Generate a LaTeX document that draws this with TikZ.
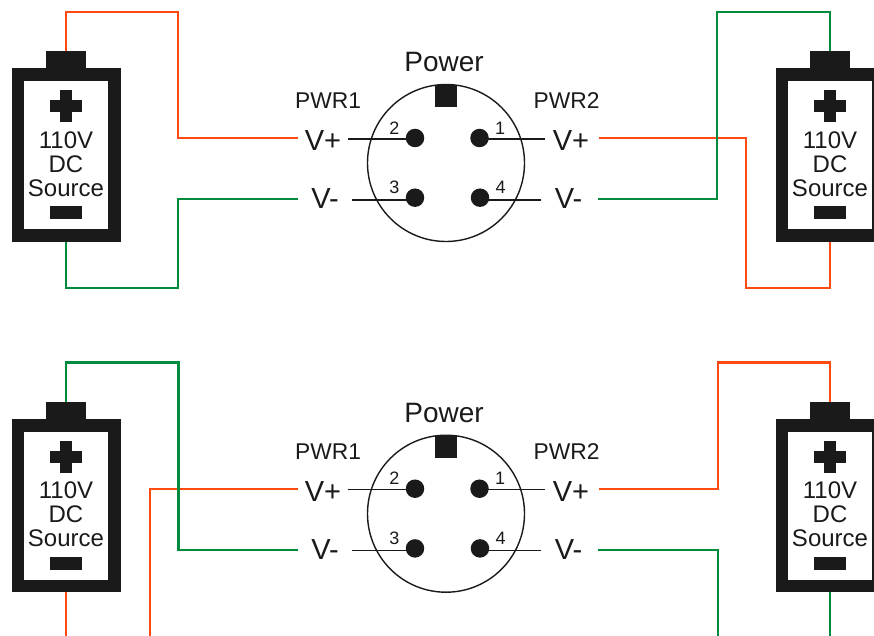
\documentclass[tikz,border=0pt]{standalone}
\usepackage{fontspec}
\setmainfont{Liberation Sans}
\usetikzlibrary{positioning}
\definecolor{ink}{HTML}{1A1A1A}
\definecolor{wirered}{HTML}{FF4A12}
\definecolor{wiregreen}{HTML}{008C3C}
\tikzset{
	solid box/.style={rectangle, fill=ink, inner sep=0pt, outer sep=0pt},
	pin/.style={circle, fill=ink, minimum size=18.5pt, inner sep=0pt, outer sep=0pt},
	pin number/.style={inner sep=0pt, text=ink, font=\fontsize{18}{18}\selectfont},
	port/.style={inner ysep=0pt, text=ink, font=\fontsize{29}{29}\selectfont},
	caption/.style={inner sep=0pt, text=ink},
	red wire/.style={draw=wirered, line width=2.3pt},
	green wire/.style={draw=wiregreen, line width=2.3pt},
	lead/.style={draw=ink, line width=1.4pt},
	battery/.pic={
		\node[draw=ink, line width=12.5pt, minimum width=96.5pt, minimum height=160.5pt, inner sep=0pt] (-body) at (0,0) {};
		\node[solid box, minimum width=40pt, minimum height=17pt, above=0pt of -body] (-cap) {};
		\node[solid box, minimum width=32pt, minimum height=12pt] (-plusH) at (0,-49) {};
		\node[solid box, minimum width=12pt, minimum height=32pt] (-plusV) at (0,-49) {};
		\node[caption, align=center, font=\fontsize{24}{24}\selectfont] (-text) at (0,9) {110V\\DC\\Source};
		\node[solid box, minimum width=32pt, minimum height=13pt] (-minus) at (0,57.5) {};
	},
	plug/.pic={
		\node[circle, draw=ink, line width=1.4pt, minimum size=157pt, inner sep=0pt] (-shell) at (0,0) {};
		\node[solid box, minimum width=22pt, minimum height=22pt] (-key) at (0,-67) {};
		\node[caption, font=\fontsize{28}{28}\selectfont] (-title) at (-2,-101) {Power};
		\node[caption, font=\fontsize{22.8}{23}\selectfont] (-nameL) at (-118,-62) {PWR1};
		\node[caption, font=\fontsize{22.8}{23}\selectfont] (-nameR) at (120.5,-62) {PWR2};
		\node[pin] (-pin2) at (-31,-25) {};
		\node[pin] (-pin1) at (33.5,-25) {};
		\node[pin] (-pin3) at (-31,34.7) {};
		\node[pin] (-pin4) at (34,34.7) {};
		\node[pin number, above left=-3pt and 9pt of -pin2] (-num2) {2};
		\node[pin number, above right=-3pt and 9pt of -pin1] (-num1) {1};
		\node[pin number, above left=-3pt and 9pt of -pin3] (-num3) {3};
		\node[pin number, above right=-3pt and 9pt of -pin4] (-num4) {4};
		\node[port, inner xsep=6.5pt, text height=25pt] (-VpL) at (-123,-25) {V+};
		\node[port, inner xsep=13.5pt, text height=19pt] (-VmL) at (-121,36) {V-};
		\node[port, inner xsep=7.5pt, text height=25pt] (-VpR) at (125,-25) {V+};
		\node[port, inner xsep=13.5pt, text height=19pt] (-VmR) at (122.5,36) {V-};
		\draw[lead] ([yshift=-1pt]-VpL.east) -- ([yshift=-1pt]-VpL.east -| -pin2.center);
		\draw[lead] ([yshift=-1pt]-VmL.east) -- ([yshift=-1pt]-VmL.east -| -pin3.center);
		\draw[lead] ([yshift=-1pt]-VpR.west) -- ([yshift=-1pt]-VpR.west -| -pin1.center);
		\draw[lead] ([yshift=-1pt]-VmR.west) -- ([yshift=-1pt]-VmR.west -| -pin4.center);
	}
}

\begin{document}
\begin{tikzpicture}[x=1pt, y=-1pt]
	\clip (0,0) rectangle (874,636);
	\pic (BatA) at (66,155) {battery};
	\pic (BatB) at (830,155) {battery};
	\pic (BatC) at (66,505.7) {battery};
	\pic (BatD) at (830,505.7) {battery};
	\pic (PlugA) at (446,163) {plug};
	\pic (PlugB) at (446,513.7) {plug};
	% upper pair
	\draw[red wire] (BatB-body.south) |- (746,288) |- ([xshift=2.5pt]PlugA-VpR.east);
	\draw[green wire] (BatB-cap.north) |- (717,12) |- ([xshift=2.5pt]PlugA-VmR.east);
	\draw[red wire] (BatA-cap.north) |- (178,12) |- (PlugA-VpL.west);
	\draw[green wire] (BatA-body.south) |- (178,288) |- (PlugA-VmL.west);
	% lower pair
	\draw[red wire] (BatC-body.south) -- (66,636);
	\draw[red wire] (PlugB-VpL.west) -| (150,636);
	\draw[green wire] (BatC-cap.north) |- (178.4,362.6) |- (PlugB-VmL.west);
	\draw[red wire] (BatD-cap.north) |- (718,362.6) |- ([xshift=2.5pt]PlugB-VpR.east);
	\draw[green wire] ([xshift=2.5pt]PlugB-VmR.east) -| (718,636);
	\draw[green wire] (BatD-body.south) -- (830,636);
\end{tikzpicture}
\end{document}
